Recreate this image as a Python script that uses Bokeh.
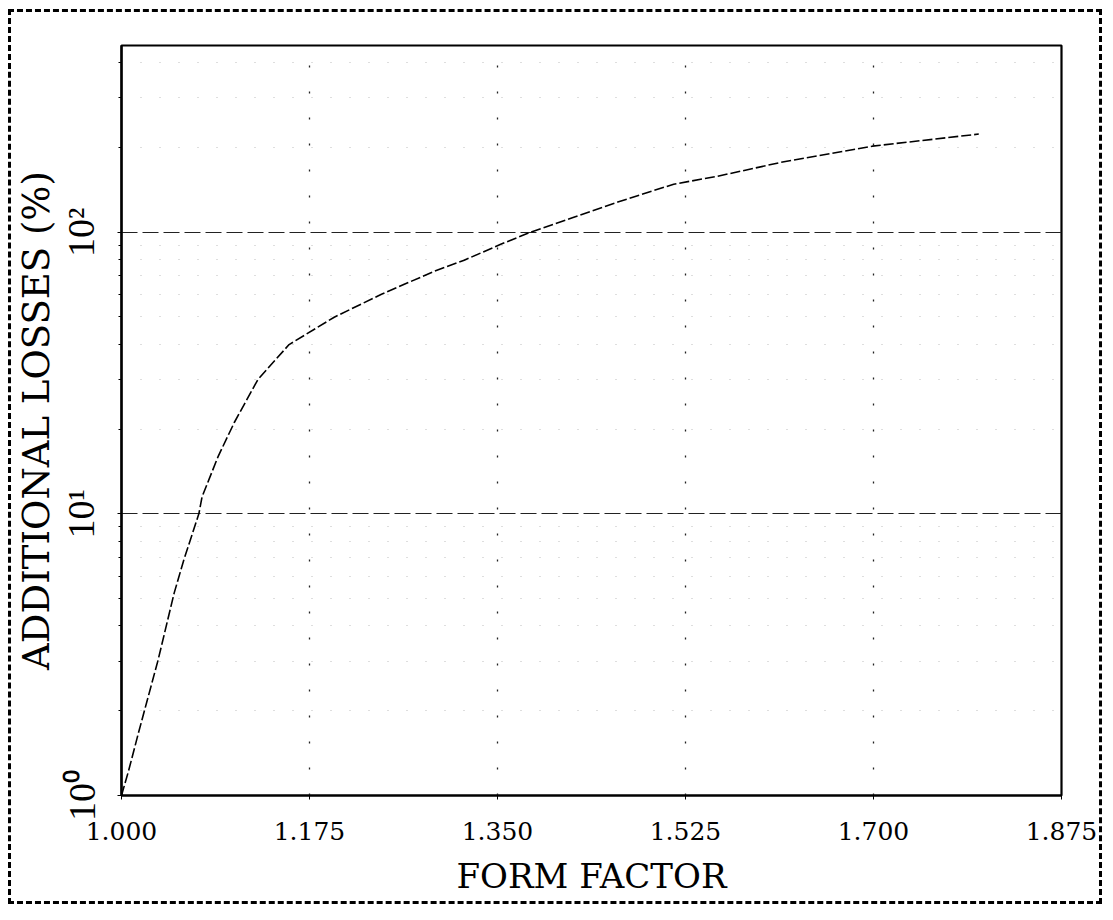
from bokeh.plotting import figure
from bokeh.models import (Range1d, FixedTicker, PrintfTickFormatter,
                          CustomJSTickFormatter)
from bokeh.embed import file_html
from bokeh.resources import INLINE

# ---- data ----
form_factor = [1.000, 1.0065, 1.016, 1.034, 1.049, 1.058, 1.072, 1.075, 1.090,
               1.105, 1.127, 1.156, 1.198, 1.242, 1.291, 1.319, 1.353, 1.381,
               1.421, 1.462, 1.514, 1.555, 1.614, 1.699, 1.798]
additional_losses = [1.00, 1.22, 1.68, 3.02, 5.23, 6.86, 10.0, 11.5, 16.0,
                     21.1, 30.0, 39.9, 49.9, 60.2, 72.6, 79.5, 90.6, 100.0,
                     113.0, 128.0, 148.0, 158.0, 177.0, 202.0, 223.0]

x_ticks = [1.000, 1.175, 1.350, 1.525, 1.700, 1.875]
y_ticks = [1, 10, 100]
y_tick_labels = ["10\u2070", "10\u00b9", "10\u00b2"]
y_minor_ticks = [2, 3, 4, 5, 6, 7, 8, 9, 20, 30, 40, 50, 60, 70, 80, 90,
                 200, 300, 400]

x_title = "FORM FACTOR"
y_title = "ADDITIONAL LOSSES (%)"

SERIF_WIDE = "DejaVu Serif"
SERIF = "Liberation Serif"

p = figure(width=1094, height=895, y_axis_type="log",
           x_range=Range1d(1.0, 1.875), y_range=Range1d(1.0, 460.0),
           output_backend="svg", toolbar_location=None,
           min_border_left=109, min_border_right=44,
           min_border_top=33, min_border_bottom=112,
           styles={"margin-left": "8px", "margin-top": "9px",
                   "border": "3px dashed black"})

p.background_fill_color = "white"
p.border_fill_color = "white"
p.outline_line_color = "black"
p.outline_line_width = 2.2

# curve
p.line(form_factor, additional_losses, line_color="black", line_width=1.6,
       line_dash="10 3")

# axes
p.xaxis.ticker = FixedTicker(ticks=x_ticks)
p.xaxis.formatter = PrintfTickFormatter(format="%.3f")
p.yaxis.ticker = FixedTicker(ticks=y_ticks, minor_ticks=y_minor_ticks)
p.yaxis.formatter = CustomJSTickFormatter(
    args=dict(yt=y_ticks, yl=y_tick_labels),
    code="const i = yt.indexOf(tick); return i >= 0 ? yl[i] : '';")
p.yaxis.major_label_orientation = "vertical"

for ax in (p.xaxis[0], p.yaxis[0]):
    ax.axis_line_color = "black"
    ax.axis_line_width = 2.2
    ax.major_tick_line_color = "black"
    ax.major_tick_in = 0
    ax.major_tick_out = 4
    ax.minor_tick_line_color = "black"
    ax.minor_tick_in = 0
    ax.minor_tick_out = 3
    ax.major_label_text_color = "black"
    ax.axis_label_text_font = SERIF_WIDE
    ax.axis_label_text_font_style = "normal"
    ax.axis_label_text_color = "black"

p.xaxis.minor_tick_line_color = None
p.xaxis.major_label_text_font = SERIF_WIDE
p.xaxis.major_label_text_font_size = "25px"
p.xaxis.major_label_standoff = 22
p.xaxis.axis_label = x_title
p.xaxis.axis_label_text_font_size = "34px"
p.xaxis.axis_label_standoff = 13

p.yaxis.major_label_text_font = SERIF
p.yaxis.major_label_text_font_size = "38px"
p.yaxis.major_label_standoff = 15
p.yaxis.axis_label = y_title
p.yaxis.axis_label_text_font_size = "37px"
p.yaxis.axis_label_standoff = 0

# grids
p.xgrid.grid_line_color = "#222222"
p.xgrid.grid_line_width = 1.3
p.xgrid.grid_line_dash = "2 24"
p.ygrid.grid_line_color = "#222222"
p.ygrid.grid_line_width = 1.2
p.ygrid.grid_line_dash = "16 5"
p.ygrid.minor_grid_line_color = "#888888"
p.ygrid.minor_grid_line_alpha = 0.55
p.ygrid.minor_grid_line_width = 1.0
p.ygrid.minor_grid_line_dash = "1 18"

open("out.html", "w").write(file_html(p, INLINE))
